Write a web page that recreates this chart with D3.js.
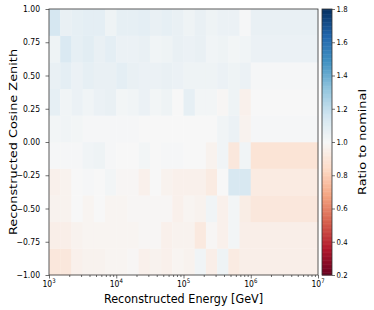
<!DOCTYPE html>
<html>
<head>
  <meta charset="UTF-8">
  <title>Ratio to nominal</title>
</head>
<body style="margin:0;background:#fff">
<svg></svg>
<script src="https://d3js.org/d3.v7.min.js"></script>
<script>
    let width = 374, height = 310;

    // Bin edges
    var energyEdges = [1e3, 1.468e3, 2.154e3, 3.162e3, 4.642e3, 6.813e3,
                       1e4, 1.468e4, 2.154e4, 3.162e4, 4.642e4, 6.813e4,
                       1e5, 1.468e5, 2.154e5, 3.162e5, 4.642e5, 6.813e5,
                       1e6, 1e7];
    var cosEdges = [-1.0, -0.8, -0.6, -0.4, -0.2, 0.0, 0.2, 0.4, 0.6, 0.8, 1.0];

    // Ratio per cosine bin (bottom to top), one value per energy bin
    var ratioCosM10 = [0.91, 0.91, 0.96, 0.97, 0.97, 0.98, 0.98, 0.99, 0.96, 0.97, 0.96, 0.98, 0.97, 1.03, 0.95, 1.04, 0.93, 0.95, 0.95];
    var ratioCosM08 = [0.95, 0.95, 0.97, 0.98, 0.98, 0.98, 0.98, 0.98, 0.99, 0.99, 0.96, 0.97, 0.97, 0.92, 0.99, 0.96, 1.02, 0.95, 0.95];
    var ratioCosM06 = [0.97, 0.97, 1.00, 0.98, 1.00, 0.98, 0.98, 0.99, 0.99, 0.99, 0.99, 0.96, 0.98, 0.97, 1.03, 0.96, 1.02, 0.94, 0.91];
    var ratioCosM04 = [0.96, 0.97, 1.00, 1.01, 1.00, 1.02, 0.99, 0.99, 0.96, 1.00, 0.97, 0.96, 0.96, 0.96, 0.93, 1.00, 1.13, 1.13, 0.93];
    var ratioCosM02 = [1.01, 1.01, 1.01, 1.03, 1.04, 1.01, 1.00, 1.00, 1.02, 1.00, 1.01, 1.01, 1.00, 1.00, 0.97, 1.03, 0.91, 1.03, 0.89];
    var ratioCosP00 = [1.02, 1.03, 1.02, 1.01, 1.01, 1.01, 1.01, 1.01, 1.00, 1.00, 1.00, 1.00, 1.00, 1.00, 1.00, 1.03, 1.05, 0.97, 1.01];
    var ratioCosP02 = [1.07, 1.03, 1.05, 1.03, 1.05, 1.06, 1.02, 1.03, 1.05, 1.02, 1.04, 1.00, 1.07, 1.02, 1.02, 0.99, 1.04, 0.96, 1.00];
    var ratioCosP04 = [1.06, 1.08, 1.05, 1.07, 1.06, 1.06, 1.08, 1.06, 1.05, 1.05, 1.06, 1.05, 1.04, 1.04, 1.04, 1.05, 1.04, 1.05, 1.01];
    var ratioCosP06 = [1.04, 1.12, 1.07, 1.09, 1.06, 1.08, 1.05, 1.05, 1.06, 1.03, 1.04, 1.06, 1.05, 1.06, 1.03, 1.04, 1.02, 1.03, 1.05];
    var ratioCosP08 = [1.14, 1.06, 1.07, 1.08, 1.08, 1.04, 1.07, 1.07, 1.08, 1.06, 1.07, 1.06, 1.04, 1.06, 1.04, 1.05, 1.05, 1.01, 1.06];
    var ratioRows = [ratioCosM10, ratioCosM08, ratioCosM06, ratioCosM04, ratioCosM02,
                     ratioCosP00, ratioCosP02, ratioCosP04, ratioCosP06, ratioCosP08];

    var yTicks = [-1.0, -0.75, -0.5, -0.25, 0.0, 0.25, 0.5, 0.75, 1.0];
    var xTicks = [1e3, 1e4, 1e5, 1e6, 1e7];
    var cbarTicks = [0.2, 0.4, 0.6, 0.8, 1.0, 1.2, 1.4, 1.6, 1.8];

    let svg = d3.select("svg").attr("width", width).attr("height", height)
        .style("font-family", "DejaVu Sans");

    var margin = {left: 49, right: 318, top: 9, bottom: 275};
    // the picture is squeezed a bit horizontally
    var sx = 0.87, tickFont = 8.8, cbFont = 8.0, labelFont = 12.9;

    var x = d3.scaleLog().domain([1e3, 1e7]).range([margin.left, margin.right]);
    var y = d3.scaleLinear().domain([-1, 1]).range([margin.bottom, margin.top]);

    // RdBu, linear between the 11 brewer colours (like matplotlib)
    var rdbu = ["#67001f", "#b2182b", "#d6604d", "#f4a582", "#fddbc7", "#f7f7f7",
                "#d1e5f0", "#92c5de", "#4393c3", "#2166ac", "#053061"];
    var color = d3.scaleLinear()
        .domain(d3.range(11).map(i => 0.2 + i * 0.16))
        .range(rdbu)
        .interpolate(d3.interpolateRgb)
        .clamp(true);

    function addText(px, py, txt, size, anchor) {
        return svg.append("text")
            .attr("transform", "translate(" + px + "," + py + ") scale(" + sx + ",1)")
            .attr("text-anchor", anchor)
            .style("font-size", size + "px")
            .text(txt);
    }

    // flatten cells
    var cells = [];
    ratioRows.forEach(function(row, j) {
        row.forEach(function(v, i) {
            cells.push({x0: energyEdges[i], x1: energyEdges[i + 1], y0: cosEdges[j], y1: cosEdges[j + 1], v: v});
        });
    });

    svg.append("g")
        .selectAll("rect")
        .data(cells)
        .enter()
        .append("rect")
        .attr("x", d => x(d.x0))
        .attr("y", d => y(d.y1))
        .attr("width", d => x(d.x1) - x(d.x0) + 0.3)
        .attr("height", d => y(d.y0) - y(d.y1) + 0.3)
        .attr("fill", d => color(d.v));

    // axes (tick marks only, labels drawn below)
    var xAxis = svg.append("g")
        .attr("transform", "translate(0," + margin.bottom + ")")
        .call(d3.axisBottom(x).tickValues(x.ticks()).tickSize(2).tickFormat(""));
    xAxis.selectAll(".tick line").attr("y2", d => xTicks.indexOf(d) >= 0 ? 3.5 : 2);

    xTicks.forEach(function(d) {
        var t = addText(x(d), margin.bottom + 11.5, "", tickFont, "middle");
        t.append("tspan").text("10");
        t.append("tspan").attr("dy", -3.5).style("font-size", (tickFont * 0.7) + "px")
            .text(Math.round(Math.log10(d)));
    });

    svg.append("g")
        .attr("transform", "translate(" + margin.left + ",0)")
        .call(d3.axisLeft(y).tickValues(yTicks).tickSize(3.5).tickFormat(""));
    yTicks.forEach(function(d) {
        addText(40, y(d) + 3.2, d3.format(".2f")(d).replace("-", "\u2212"), tickFont, "end");
    });

    svg.selectAll(".domain").remove();
    svg.selectAll(".tick line").attr("stroke", "#333").attr("stroke-width", 0.7);

    // frame
    svg.append("rect")
        .attr("x", margin.left).attr("y", margin.top)
        .attr("width", margin.right - margin.left).attr("height", margin.bottom - margin.top)
        .attr("fill", "none").attr("stroke", "#333").attr("stroke-width", 0.8);

    // axis titles
    addText((margin.left + margin.right) / 2, 302.5, "Reconstructed Energy [GeV]", labelFont, "middle");
    svg.append("text")
        .attr("transform", "translate(16.5," + ((margin.top + margin.bottom) / 2) + ") scale(" + sx + ",1) rotate(-90)")
        .attr("text-anchor", "middle").style("font-size", labelFont + "px")
        .text("Reconstructed Cosine Zenith");

    // colorbar
    var cbX = 322, cbW = 10;
    var cy = d3.scaleLinear().domain([0.2, 1.8]).range([margin.bottom, margin.top]);
    var steps = d3.range(0, 200);
    svg.append("g").selectAll("rect")
        .data(steps)
        .enter()
        .append("rect")
        .attr("x", cbX)
        .attr("y", s => cy(0.2 + (s + 1) * 1.6 / 200))
        .attr("width", cbW)
        .attr("height", (margin.bottom - margin.top) / 200 + 0.5)
        .attr("fill", s => color(0.2 + (s + 0.5) * 1.6 / 200));
    svg.append("rect")
        .attr("x", cbX).attr("y", margin.top)
        .attr("width", cbW).attr("height", margin.bottom - margin.top)
        .attr("fill", "none").attr("stroke", "#333").attr("stroke-width", 0.8);
    var cbAxis = svg.append("g")
        .attr("transform", "translate(" + (cbX + cbW) + ",0)")
        .call(d3.axisRight(cy).tickValues(cbarTicks).tickSize(3).tickFormat(""));
    cbAxis.select(".domain").remove();
    cbAxis.selectAll(".tick line").attr("stroke", "#333").attr("stroke-width", 0.7);
    cbarTicks.forEach(function(d) {
        addText(cbX + cbW + 4.5, cy(d) + 2.9, d3.format(".1f")(d), cbFont, "start");
    });

    svg.append("text")
        .attr("transform", "translate(365.5," + ((margin.top + margin.bottom) / 2) + ") scale(" + sx + ",1) rotate(-90)")
        .attr("text-anchor", "middle").style("font-size", labelFont + "px")
        .text("Ratio to nominal");
</script>
</body>
</html>
